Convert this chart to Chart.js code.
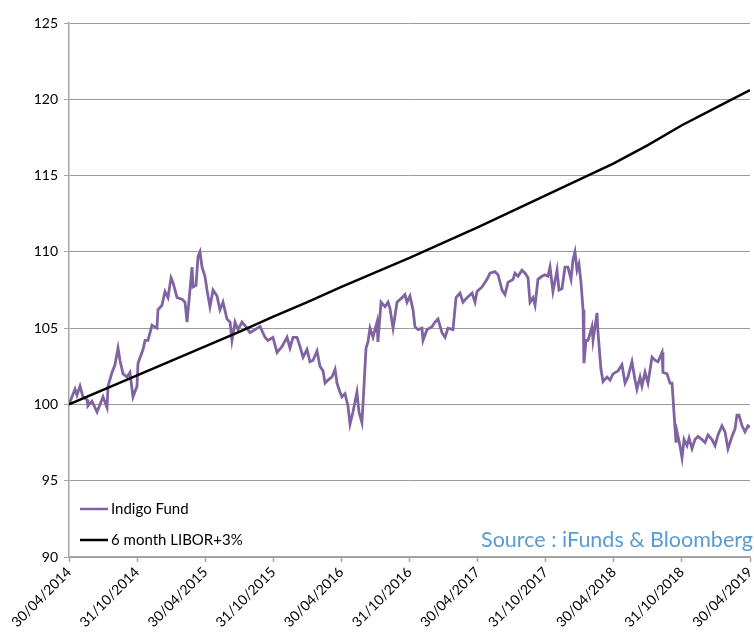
<!DOCTYPE html>
<html>
<head>
<meta charset="utf-8">
<script src="https://cdn.jsdelivr.net/npm/chart.js@4.4.1/dist/chart.umd.min.js"></script>
<style>
html,body{margin:0;padding:0;background:#fff;}
canvas{display:block;}
</style>
</head>
<body>
<canvas id="c" width="754" height="635"></canvas>
<script>
// Tick labels for the x axis (every 6 months from 30/04/2014)
const tickLabels = ["30/04/2014","31/10/2014","30/04/2015","31/10/2015","30/04/2016","31/10/2016","30/04/2017","31/10/2017","30/04/2018","31/10/2018","30/04/2019"];

// Indigo Fund: months since 30/04/2014 and values
const fundMonths = [0,0.53,0.70,0.97,1.23,1.59,1.67,2.03,2.47,2.73,3.00,3.35,3.44,3.79,4.05,4.32,4.49,4.76,5.11,5.37,5.64,5.99,6.08,6.52,6.70,6.96,7.31,7.75,7.84,8.19,8.46,8.72,8.99,9.16,9.52,9.96,10.22,10.40,10.84,10.93,11.19,11.37,11.54,11.72,11.98,12.16,12.42,12.69,13.04,13.30,13.57,13.92,14.19,14.36,14.63,14.89,15.24,15.68,15.95,16.39,16.83,17.27,17.53,17.97,18.33,18.77,19.21,19.47,19.74,20.09,20.35,20.62,20.97,21.23,21.50,21.85,22.11,22.38,22.56,22.82,23.17,23.44,23.61,23.88,24.05,24.32,24.58,24.76,25.02,25.37,25.55,25.81,25.99,26.17,26.34,26.52,26.78,27.14,27.22,27.49,27.84,28.11,28.28,28.55,28.72,28.90,29.34,29.60,29.78,30.04,30.31,30.48,30.75,31.10,31.19,31.54,31.98,32.25,32.51,32.86,33.13,33.39,33.83,34.10,34.45,34.71,35.07,35.51,35.77,35.95,36.39,36.83,37.09,37.53,37.80,38.15,38.41,38.68,39.12,39.30,39.56,39.91,40.18,40.44,40.62,40.88,41.06,41.32,41.67,41.94,42.20,42.38,42.64,43.00,43.17,43.44,43.70,43.96,44.23,44.41,44.58,44.76,44.93,45.11,45.29,45.37,45.55,45.73,46.08,46.17,46.52,46.61,46.87,47.05,47.40,47.67,47.93,48.37,48.72,48.99,49.25,49.60,49.87,50.04,50.31,50.48,50.75,51.01,51.37,51.63,51.89,52.25,52.33,52.69,52.95,53.13,53.30,53.48,53.57,53.83,54.01,54.19,54.45,54.63,54.89,55.15,55.42,55.77,56.04,56.30,56.65,56.92,57.18,57.53,57.80,58.06,58.41,58.68,58.85,59.03,59.30,59.56,59.82,60.0];
const fundValues = [100.0,101.0,100.6,101.2,100.5,100.3,99.9,100.2,99.5,100.0,100.5,99.8,101.2,102.1,102.6,103.7,102.9,102.0,101.8,102.1,100.5,101.2,102.7,103.6,104.2,104.2,105.2,105.0,106.2,106.5,107.4,107.0,108.3,108.0,107.0,106.9,106.7,105.4,109.0,107.7,107.8,109.7,110.0,109.0,108.4,107.5,106.4,107.5,107.1,106.2,106.7,105.6,105.4,104.2,105.4,104.9,105.4,105.0,104.7,104.9,105.1,104.4,104.2,104.4,103.4,103.8,104.4,103.7,104.4,104.4,103.8,103.1,103.6,102.8,102.9,103.5,102.5,102.2,101.4,101.6,101.8,102.3,101.4,100.8,100.5,100.7,99.9,98.7,99.5,100.8,99.5,98.8,101.2,103.7,104.1,105.0,104.4,105.4,104.1,106.7,106.4,106.7,106.3,105.0,105.8,106.7,107.0,107.2,106.7,107.1,106.2,105.1,104.9,105.0,104.2,104.9,105.1,105.4,105.6,104.7,104.4,105.0,104.9,107.0,107.3,106.7,107.0,107.3,106.7,107.4,107.7,108.2,108.6,108.7,108.5,107.5,107.2,108.0,108.2,108.6,108.4,108.8,108.6,108.3,106.7,107.0,106.5,108.2,108.4,108.5,108.4,109.0,107.4,108.8,107.5,107.6,109.0,109.0,108.2,109.5,110.0,108.8,109.2,108.0,106.2,102.7,104.2,104.2,105.1,104.2,106.0,104.7,102.3,101.5,101.8,101.6,102.0,102.2,102.6,101.4,101.8,102.8,101.6,101.0,101.8,101.2,102.1,101.4,103.1,102.9,102.8,103.4,102.1,102.0,101.4,101.4,99.5,97.5,98.2,97.3,96.5,97.7,97.3,97.8,97.1,97.7,97.9,97.7,97.5,98.0,97.7,97.3,98.0,98.6,98.2,97.1,97.9,98.4,99.3,99.3,98.6,98.2,98.6,98.5];

// 6 month LIBOR+3%: quarterly readings
const liborMonths = [0,3,6,9,12,15,18,21,24,27,30,33,36,39,42,45,48,51,54,57,60];
const liborValues = [100.0,100.95,101.9,102.85,103.8,104.75,105.75,106.7,107.7,108.65,109.6,110.6,111.6,112.65,113.7,114.75,115.8,117.0,118.3,119.45,120.6];

// Y axis ticks
const yMin = 90, yMax = 125, yStep = 5;

const seriesNames = ["Indigo Fund", "6 month LIBOR+3%"];
const seriesColors = ["#8064a2", "#000000"];
const sourceText = "Source : iFunds & Bloomberg";

const FONT = "Lato, 'Open Sans', sans-serif";

const overlay = {
  id: 'overlay',
  afterDraw(chart) {
    const ctx = chart.ctx;
    const a = chart.chartArea;
    ctx.save();
    // legend
    ctx.font = "15px " + FONT;
    ctx.textBaseline = "middle";
    ctx.textAlign = "left";
    const rows = [509, 540];
    for (let i = 0; i < seriesNames.length; i++) {
      ctx.strokeStyle = seriesColors[i];
      ctx.lineWidth = 2.5;
      ctx.beginPath();
      ctx.moveTo(a.left + 11, rows[i]);
      ctx.lineTo(a.left + 39, rows[i]);
      ctx.stroke();
      ctx.fillStyle = "#000";
      ctx.fillText(seriesNames[i], a.left + 42, rows[i]);
    }
    // source
    ctx.font = "21.5px " + FONT;
    ctx.fillStyle = "#5b9bd5";
    ctx.textAlign = "right";
    ctx.fillText(sourceText, a.right + 3, 540);
    ctx.restore();
  }
};

new Chart(document.getElementById('c'), {
  type: 'line',
  data: {
    datasets: [
      {
        label: seriesNames[1],
        data: liborMonths.map((m, i) => ({x: m, y: liborValues[i]})),
        borderColor: seriesColors[1],
        borderWidth: 2.5,
        pointRadius: 0,
        tension: 0,
        order: 0
      },
      {
        label: seriesNames[0],
        data: fundMonths.map((m, i) => ({x: m, y: fundValues[i]})),
        borderColor: seriesColors[0],
        borderWidth: 2.8,
        pointRadius: 0,
        tension: 0,
        order: 1
      }
    ]
  },
  options: {
    responsive: false,
    animation: false,
    devicePixelRatio: 1,
    layout: { padding: { top: 23, right: 0, left: 0, bottom: 0 } },
    plugins: { legend: { display: false }, tooltip: { enabled: false } },
    scales: {
      x: {
        type: 'linear',
        min: 0, max: 60,
        afterBuildTicks(scale) {
          scale.ticks = tickLabels.map((t, i) => ({value: i * 6}));
        },
        afterFit(scale) {
          scale.height = 78;
          scale.paddingRight = 4;
          scale.paddingLeft = 0;
        },
        ticks: {
          autoSkip: false,
          maxRotation: 45, minRotation: 45,
          font: { family: FONT, size: 14 },
          color: "#000",
          padding: 2,
          callback: (v) => tickLabels[Math.round(v / 6)]
        },
        grid: {
          drawOnChartArea: false,
          drawTicks: true,
          tickLength: 5,
          tickColor: "#a6a6a6",
          tickWidth: 1.5
        },
        border: { color: "#a6a6a6", width: 1.5 }
      },
      y: {
        min: yMin, max: yMax,
        afterFit(scale) { scale.width = 69; },
        ticks: {
          stepSize: yStep,
          font: { family: FONT, size: 14 },
          color: "#000",
          padding: 6
        },
        grid: {
          color: "#9a9a9a",
          lineWidth: 1,
          borderDash: [1, 2],
          tickBorderDash: [],
          tickLength: 5,
          tickColor: "#a6a6a6",
          drawTicks: true
        },
        border: { color: "#a6a6a6", width: 1.5 }
      }
    }
  },
  plugins: [overlay]
});
</script>
</body>
</html>
